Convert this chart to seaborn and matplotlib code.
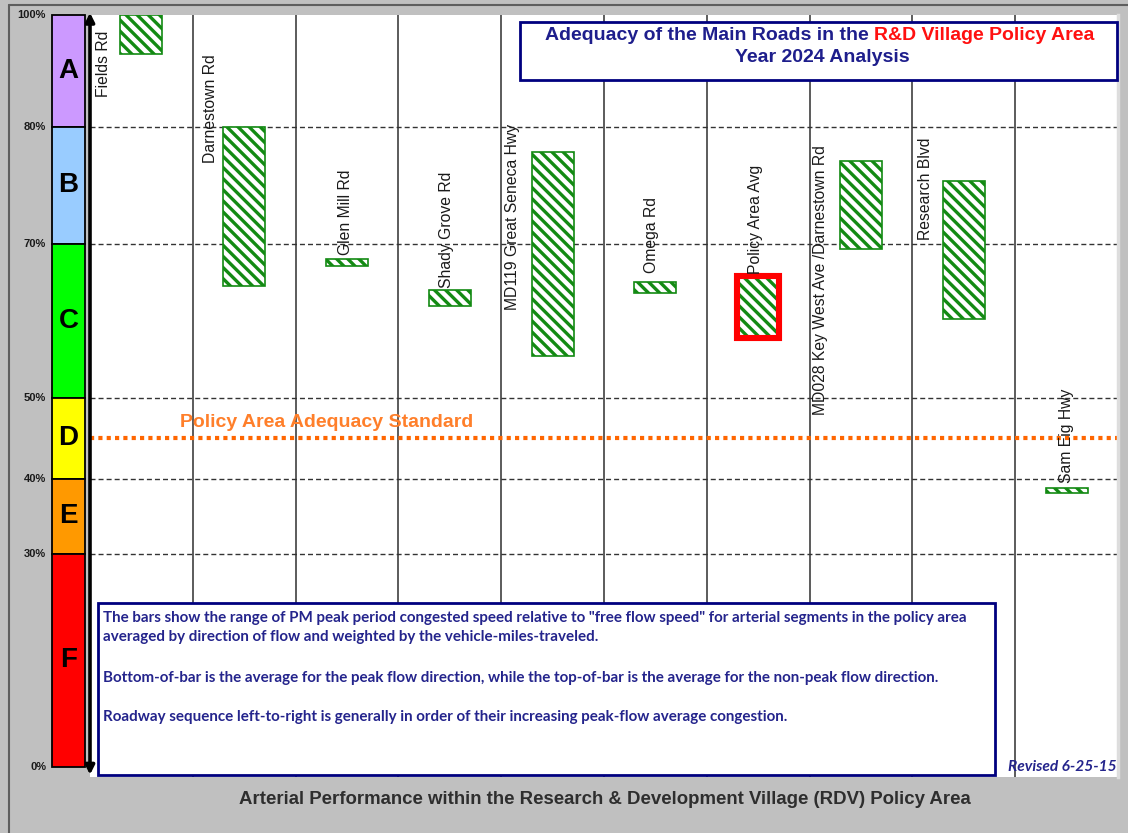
import numpy as np
import pandas as pd
import matplotlib
matplotlib.use("Agg")
import matplotlib.pyplot as plt
import matplotlib.transforms as mtransforms
from matplotlib.patches import Rectangle
from matplotlib.lines import Line2D
from matplotlib.text import Annotation
import seaborn as sns

# ------------------------------------------------------------------ data
roads = ["Fields Rd", "Darnestown Rd", "Glen Mill Rd", "Shady Grove Rd",
         "MD119 Great Seneca Hwy", "Omega Rd", "Policy Area Avg",
         "MD028 Key West Ave /Darnestown Rd", "Research Blvd", "Sam Eig Hwy"]
top_pct = [100.0, 80.0, 68.0, 64.0, 77.9, 65.1, 65.8, 77.1, 75.4, 38.8]     # non-peak direction
bottom_pct = [93.0, 64.5, 67.2, 61.9, 55.5, 63.7, 57.8, 69.4, 60.3, 38.1]  # peak direction
highlight = "Policy Area Avg"
standard_pct = 45.0
standard_label = "Policy Area Adequacy Standard"

los_letters = ["A", "B", "C", "D", "E", "F"]
los_upper = [100, 80, 70, 50, 40, 30]
los_lower = [80, 70, 50, 40, 30, 0]
grid_pct = [80, 70, 50, 40, 30]
tick_pct = [100, 80, 70, 50, 40, 30, 0]
tick_labels = ["100%", "80%", "70%", "50%", "40%", "30%", "0%"]

title_main = "Adequacy of the Main Roads in the"
title_area = "R&D Village Policy Area"
title_year = "Year 2024 Analysis"
notes = [
    "The bars show the range of PM peak period congested speed relative to \"free flow speed\" for arterial segments in the policy area",
    "averaged by direction of flow and weighted by the vehicle-miles-traveled.",
    "Bottom-of-bar is the average for the peak flow direction, while the top-of-bar is the average for the non-peak flow direction.",
    "Roadway sequence left-to-right is generally in order of their increasing peak-flow average congestion.",
]
revised = "Revised 6-25-15"
xlabel = "Arterial Performance within the Research & Development Village (RDV) Policy Area"

# ------------------------------------------------------------------ style
W, H = 1128, 833
los_colors = ["#cc99ff", "#99ccff", "#00ff00", "#ffff00", "#ff9900", "#ff0000"]
green = "#138a13"
navy = "#00007f"
note_color = "#24248c"
hatch = "\\\\\\"
# piecewise scale: each LOS band gets its own height on screen
scale_vals = [-10, 0, 30, 40, 50, 70, 80, 100, 120]
scale_pos = [-5, 66, 279, 354, 435, 589, 706, 818, 930]
# rotated road label anchors (x offset in columns, baseline in %)
label_dx = [-0.365, -0.33, -0.01, -0.03, -0.39, -0.04, -0.03, -0.39, -0.37, 0.0]
label_base = [85.4, 76.9, 68.6, 64.3, 61.4, 66.2, 66.1, 47.9, 70.3, 39.5]

sns.set_theme(style="white")
plt.rcParams["font.family"] = ["Liberation Sans", "DejaVu Sans"]
plt.rcParams["hatch.linewidth"] = 2.4
plt.rcParams["hatch.color"] = green


def fwd(v):
    return np.interp(v, scale_vals, scale_pos)


def inv(t):
    return np.interp(t, scale_pos, scale_vals)


def fx(px):
    return px / W


def fy(py):
    return 1 - py / H


fig = plt.figure(figsize=(W / 100, H / 100), dpi=100)
fig.patch.set_facecolor("#c0c0c0")

ax_box = [fx(90), fy(777), (1118 - 90) / W, (777 - 15) / H]
ax = fig.add_axes(ax_box)
ax.set_facecolor("white")

df = pd.DataFrame({"road": roads, "top": top_pct, "bottom": bottom_pct})
df["span"] = df["top"] - df["bottom"]

sns.barplot(data=df, x="road", y="span", bottom=df["bottom"].to_numpy(),
            ax=ax, color="white", saturation=1, width=0.41, errorbar=None,
            edgecolor=green, linewidth=1.2, hatch=hatch, zorder=3)
for p in ax.patches:
    p.set_hatch(hatch)
    p.set_edgecolor(green)
    p.set_facecolor("white")

hi = roads.index(highlight)
ax.bar(hi, top_pct[hi] - bottom_pct[hi], bottom=bottom_pct[hi], width=0.41,
       fill=False, edgecolor="#ff0000", linewidth=4.4, zorder=4)

ax.set_yscale("function", functions=(fwd, inv))
ax.set_ylim(-1.41, 100)
ax.set_xlim(-0.5, len(roads) - 0.5)
ax.set_xticks([])
ax.set_yticks([])
ax.set_xlabel("")
ax.set_ylabel("")
for s in ["top", "left", "bottom"]:
    ax.spines[s].set_visible(False)
ax.spines["right"].set_color("#dddddd")
ax.spines["right"].set_linewidth(2.5)

for i in range(len(roads) - 1):
    ax.axvline(i + 0.5, color="#404040", lw=1.2, zorder=1)
for g in grid_pct:
    ax.axhline(g, color="#333333", lw=1.0, ls=(0, (3.6, 2.2)), zorder=1.5)
ax.axhline(standard_pct, color="#ff6600", lw=3.0, ls=(0, (1, 1)), zorder=2)
ax.text(1.8, 47.0, standard_label, ha="center", va="center", fontsize=14,
        fontweight="bold", color="#ff7f2a", zorder=2.5)

for i, name in enumerate(roads):
    ax.text(i + label_dx[i], label_base[i], name, rotation=90, ha="center",
            va="bottom", fontsize=11.3, color="#1a1a1a", zorder=4.5)

ax.annotate("", xy=(0, 1.003), xytext=(0, 0.003), xycoords="axes fraction",
            arrowprops=dict(arrowstyle="<|-|>", color="black", lw=2.6,
                            mutation_scale=13, shrinkA=0, shrinkB=0),
            annotation_clip=False, zorder=6)

# LOS band column
ax2 = fig.add_axes([fx(52), ax_box[1], 33 / W, ax_box[3]])
ax2.set_facecolor("none")
ax2.bar([0] * len(los_letters), np.subtract(los_upper, los_lower), bottom=los_lower,
        width=1.0, color=los_colors, edgecolor="black", linewidth=1.3, clip_on=False)
ax2.set_yscale("function", functions=(fwd, inv))
ax2.set_ylim(-1.41, 100)
ax2.set_xlim(-0.5, 0.5)
ax2.set_xticks([])
ax2.set_yticks([])
for s in ax2.spines.values():
    s.set_visible(False)
for L, u, l in zip(los_letters, los_upper, los_lower):
    mid = inv((fwd(u) + fwd(l)) / 2)
    ax2.text(0, mid, L, ha="center", va="center", fontsize=20, fontweight="bold",
             color="black")

blend = mtransforms.blended_transform_factory(fig.transFigure, ax.transData)
for v, lab in zip(tick_pct, tick_labels):
    fig.text(fx(46), v, lab, transform=blend, ha="right", va="center",
             fontsize=8, fontweight="bold", color="#1a1a1a")

# frame lines
fig.add_artist(Line2D([fx(9), fx(9)], [0, fy(5)], transform=fig.transFigure,
                      color="#5e5e5e", lw=1.5))
fig.add_artist(Line2D([fx(9), 1], [fy(5), fy(5)], transform=fig.transFigure,
                      color="#5e5e5e", lw=1.5))

# title box
fig.add_artist(Rectangle((fx(520), fy(80)), (1117 - 520) / W, 58 / H,
                         transform=fig.transFigure, facecolor="white",
                         edgecolor=navy, lw=2, zorder=10))
t1 = fig.text(fx(545), fy(35), title_main, ha="left", va="center", fontsize=14,
              fontweight="bold", color="#1e1e8c", zorder=11)
fig.add_artist(Annotation(title_area, xy=(1, 0.5), xycoords=t1,
                          xytext=(4.0, 0), textcoords="offset points",
                          ha="left", va="center", fontsize=14, fontweight="bold",
                          color="#ff1010", zorder=11))
fig.text(fx(822), fy(57), title_year, ha="center", va="center", fontsize=14,
         fontweight="bold", color="#1e1e8c", zorder=11)

# notes box
fig.add_artist(Rectangle((fx(98), fy(775)), (995 - 98) / W, (775 - 603) / H,
                         transform=fig.transFigure, facecolor="white",
                         edgecolor=navy, lw=2, zorder=10))
for txt, py in zip(notes, [618, 637, 678, 717]):
    fig.text(fx(103), fy(py), txt, ha="left", va="center", fontsize=10.9,
             fontweight="bold", color=note_color, family=["Lato", "DejaVu Sans"],
             zorder=11)

fig.text(fx(1117), fy(767), revised, ha="right", va="center", fontsize=11.2,
         fontweight="bold", fontstyle="italic", color="#24248c",
         family=["Lato", "DejaVu Sans"], zorder=11)

fig.text(fx(605), fy(800), xlabel, ha="center", va="center", fontsize=13.4,
         fontweight="bold", color="#2e2e2e", zorder=11)

fig.savefig("out.png", dpi=100, facecolor=fig.get_facecolor())
